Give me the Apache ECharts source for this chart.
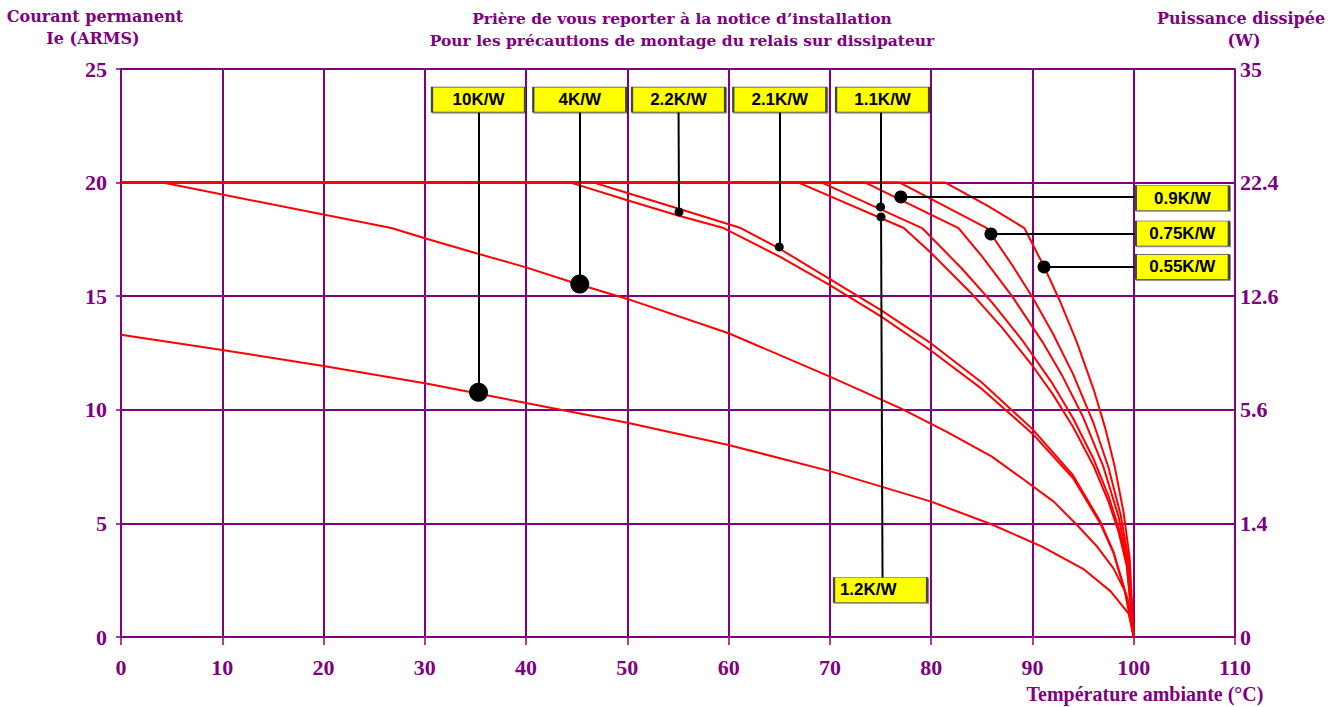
<!DOCTYPE html>
<html>
<head>
<meta charset="utf-8">
<script src="https://cdn.jsdelivr.net/npm/echarts@6/dist/echarts.min.js"></script>
<style>
html,body{margin:0;padding:0;background:#fff;}
#chart{width:1338px;height:707px;}
</style>
</head>
<body>
<div id="chart"></div>
<script>
// ---------- DATA ----------
const xTickValues = [0,10,20,30,40,50,60,70,80,90,100,110];
const leftTickValues = [0,5,10,15,20,25];
const rightTickLabels = ['0','1.4','5.6','12.6','22.4','35'];

const seriesNames = ['10K/W','4K/W','2.2K/W','2.1K/W','1.2K/W','1.1K/W','0.9K/W','0.75K/W','0.55K/W'];

const curve10K = [[0,13.3],[10,12.63],[20,11.93],[30,11.17],[40,10.3],[50,9.43],[60,8.45],[70,7.3],[80,5.96],[86,4.95],[91,3.97],[95,3.0],[97.7,2.02],[99.5,1.03],[100,0]];
const curve4K = [[0,20],[4.1,20],[26.7,18],[30,17.55],[35,16.9],[40,16.27],[45,15.55],[50,14.88],[60,13.37],[70,11.46],[77,10.06],[81.5,9.04],[86,7.94],[89.2,6.91],[92.1,5.96],[94.4,4.93],[96.4,3.97],[98,3.02],[99.1,2.05],[100,0]];
const curve2_2K = [[0,20],[44.4,20],[50,19.22],[55,18.55],[59.5,18],[65,16.75],[70,15.49],[75,14.12],[80,12.6],[85,10.92],[90,8.95],[94,7.0],[96.7,5.0],[98,3.7],[99.4,1.6],[100,0]];
const curve2_1K = [[0,20],[46.7,20],[50,19.54],[55,18.86],[61.2,18],[65,17.1],[70,15.75],[75,14.4],[80,12.92],[85,11.2],[90,9.15],[94,7.12],[96.7,5.08],[98,3.75],[99.4,1.65],[100,0]];
const curve1_2K = [[0,20],[66.9,20],[77.3,18],[80,16.9],[84,15.11],[87,13.62],[90,11.94],[92,10.69],[94,9.25],[96,7.56],[97.5,5.97],[98.5,4.63],[99.3,3.16],[100,0]];
const curve1_1K = [[0,20],[69.2,20],[79.1,18],[83,16.23],[86,14.73],[89,13.06],[92,11.14],[94,9.64],[96,7.87],[97.5,6.22],[98.5,4.82],[99.3,3.3],[100,0]];
const curve0_9K = [[0,20],[73.5,20],[82.7,18],[85,16.76],[88,14.99],[91,12.98],[93,11.45],[95,9.68],[97,7.5],[98.5,5.3],[99.5,3.06],[100,0]];
const curve0_75K = [[0,20],[76.9,20],[85.5,18],[88,16.37],[90,14.95],[92,13.37],[94,11.58],[96,9.45],[97.5,7.47],[98.7,5.39],[99.5,3.34],[100,0]];
const curve0_55K = [[0,20],[81.4,20],[85.5,19.0],[89.2,18],[91.2,16.25],[92.8,14.7],[94.4,12.96],[96.1,10.82],[97.2,9.17],[98.1,7.55],[99,5.48],[99.6,3.46],[100,0]];

const curves = [curve10K, curve4K, curve2_2K, curve2_1K, curve1_2K, curve1_1K, curve0_9K, curve0_75K, curve0_55K];

// annotations: label text, point on curve, label anchor (data coords)
const annoLabels = ['10K/W','4K/W','2.2K/W','2.1K/W','1.1K/W','1.2K/W','0.9K/W','0.75K/W','0.55K/W'];
const annoPoints = [[35.3,10.77],[45.3,15.54],[55.1,18.71],[65.0,17.17],[75.0,18.93],[75.05,18.49],[77.0,19.37],[85.9,17.74],[91.14,16.29]];
const annoAnchors = [[35.3,23.65],[45.3,23.65],[55.05,23.65],[65.05,23.65],[75.2,23.65],[75.0,2.07],[104.8,19.32],[104.8,17.76],[104.8,16.29]];
const annoStemEnds = [[35.3,23.65],[45.3,23.65],[55.05,23.65],[65.0,23.65],[75.0,23.65],[75.2,2.07],[104.8,19.37],[104.8,17.74],[104.8,16.29]];

// ---------- STYLE ----------
const PURPLE = '#800080';
const markerSizes = [19,19,9,9,9,9,13,13,13];

const chart = echarts.init(document.getElementById('chart'), null, {renderer:'svg'});

const lineSeries = curves.map((c,i)=>({
  name: seriesNames[i],
  type:'line',
  data:c,
  showSymbol:false,
  symbol:'none',
  lineStyle:{color:'#ff0000', width:2},
  z:2,
  animation:false
}));

const stemSeries = {
  type:'lines',
  coordinateSystem:'cartesian2d',
  data: annoPoints.map((p,i)=>({coords:[annoStemEnds[i], p]})),
  lineStyle:{color:'#000', width:2, opacity:1},
  z:3, silent:true, animation:false
};

const markerSeries = {
  type:'scatter',
  data: annoPoints.map((p,i)=>({value:p, symbolSize:markerSizes[i]})),
  itemStyle:{color:'#000', opacity:1},
  z:4, animation:false
};

const boxSeries = {
  type:'scatter',
  symbol:'rect',
  symbolSize:[93,25],
  data: annoAnchors.map((p,i)=>{
    const d = {value:p, name:annoLabels[i]};
    if (annoLabels[i]==='1.2K/W') d.label = {position:'insideLeft', distance:7};
    return d;
  }),
  itemStyle:{color:'#ffff00', opacity:1, borderColor:'#444', borderWidth:1.2, shadowColor:'rgba(0,0,0,0.45)', shadowOffsetX:1, shadowOffsetY:1, shadowBlur:1},
  label:{show:true, position:'inside', formatter:'{b}', color:'#000', fontFamily:'Liberation Sans, Arial, sans-serif', fontWeight:'bold', fontSize:17},
  z:5, animation:false
};

const titleFont = '"DejaVu Serif", serif';
function txt(text,x,y,size,family){
  return {type:'text', x:x, y:y, style:{text:text, textAlign:'center', textVerticalAlign:'middle', fill:PURPLE, fontFamily:family||titleFont, fontWeight:'bold', fontSize:size}};
}

const option = {
  backgroundColor:'#fff',
  animation:false,
  grid:{left:121, right:103, top:69, bottom:70, containLabel:false},
  xAxis:{
    type:'value', min:0, max:110, interval:10,
    axisLine:{show:true, lineStyle:{color:PURPLE, width:2}},
    axisTick:{show:true, length:8, lineStyle:{color:PURPLE, width:1.5}},
    axisLabel:{color:PURPLE, fontFamily:'"Liberation Serif", serif', fontWeight:'bold', fontSize:22, margin:19,
      formatter:(v)=> xTickValues.indexOf(v)>=0 ? String(v) : ''},
    splitLine:{show:true, lineStyle:{color:PURPLE, width:2}}
  },
  yAxis:[{
    type:'value', min:0, max:25, interval:5, position:'left',
    axisLine:{show:true, lineStyle:{color:PURPLE, width:2}},
    axisTick:{show:true, length:5, lineStyle:{color:PURPLE, width:1.5}},
    axisLabel:{color:PURPLE, fontFamily:'"Liberation Serif", serif', fontWeight:'bold', fontSize:22, margin:14,
      formatter:(v)=> leftTickValues.indexOf(v)>=0 ? String(v) : ''},
    splitLine:{show:true, lineStyle:{color:PURPLE, width:2}}
  },{
    type:'value', min:0, max:25, interval:5, position:'right',
    axisLine:{show:true, lineStyle:{color:PURPLE, width:2}},
    axisTick:{show:false},
    axisLabel:{color:PURPLE, fontFamily:'"Liberation Serif", serif', fontWeight:'bold', fontSize:22, margin:5,
      formatter:(v)=>{ const k = leftTickValues.indexOf(v); return k>=0 ? rightTickLabels[k] : ''; }},
    splitLine:{show:false}
  }],
  graphic:[
    txt('Prière de vous reporter à la notice d\u2019installation', 682, 18, 15.5),
    txt('Pour les précautions de montage du relais sur dissipateur', 682, 40, 15.5),
    txt('Courant permanent', 95, 16, 16),
    txt('Ie (ARMS)', 93, 38, 16),
    txt('Puissance dissipée', 1241, 18, 16),
    txt('(W)', 1244, 40, 16),
    txt('Température ambiante (°C)', 1145, 694, 20, '"Liberation Serif", serif')
  ],
  series: lineSeries.concat([stemSeries, markerSeries, boxSeries])
};
chart.setOption(option);
</script>
</body>
</html>
